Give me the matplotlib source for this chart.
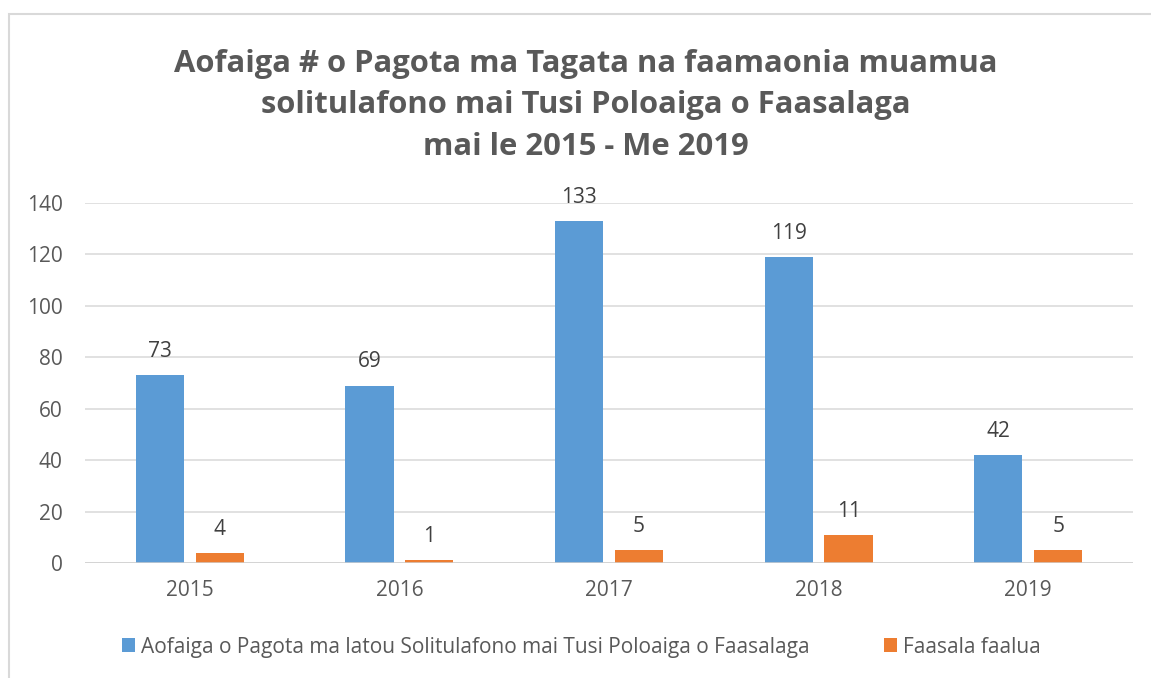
import numpy as np
import matplotlib.pyplot as plt
from matplotlib.patches import Rectangle

years = ['2015', '2016', '2017', '2018', '2019']
pagota = [73, 69, 133, 119, 42]
faasala = [4, 1, 5, 11, 5]

title = ('Aofaiga # o Pagota ma Tagata na faamaonia muamua\n'
         'solitulafono mai Tusi Poloaiga o Faasalaga\n'
         'mai le 2015 - Me 2019')
label_pagota = 'Aofaiga o Pagota ma latou Solitulafono mai Tusi Poloaiga o Faasalaga'
label_faasala = 'Faasala faalua'

blue = '#5B9BD5'
orange = '#ED7D31'
grey = '#595959'

plt.rcParams['font.family'] = ['Open Sans', 'DejaVu Sans']

fig = plt.figure(figsize=(11.51, 6.78), dpi=100)
ax = fig.add_axes([0.0738, 0.1696, 0.9106, 0.531])

x = np.arange(len(years))
w = 0.23
b1 = ax.bar(x - 0.143, pagota, w, color=blue, label=label_pagota, zorder=3)
b2 = ax.bar(x + 0.143, faasala, w, color=orange, label=label_faasala, zorder=3)

# value labels above each bar
for bars, vals in ((b1, pagota), (b2, faasala)):
    for r, v in zip(bars, vals):
        ax.annotate(str(v), (r.get_x() + r.get_width() / 2, v), xytext=(0, 17),
                    textcoords='offset points', ha='center', va='center',
                    fontsize=15, color='#404040')

ax.set_xlim(-0.5, 4.5)
ax.set_ylim(0, 140)
ax.set_yticks(range(0, 141, 20))
ax.set_xticks(x)
ax.set_xticklabels(years)
ax.grid(axis='y', color='#D9D9D9', linewidth=1.1, zorder=0)
ax.axhline(0, color='#D0D0D0', linewidth=1.8, zorder=4)
for s in ax.spines.values():
    s.set_visible(False)
ax.tick_params(length=0, labelsize=15, labelcolor=grey)
ax.tick_params(axis='x', pad=12)
ax.tick_params(axis='y', pad=16)

fig.text(0.509, 0.845, title, ha='center', va='center', fontsize=22.3,
         fontweight='bold', color=grey, linespacing=1.5)

fig.legend(loc='center', bbox_to_anchor=(0.505, 0.0457), ncol=2, frameon=False,
           fontsize=15, labelcolor=grey, handlelength=0.63, handleheight=0.63,
           handletextpad=0.25, columnspacing=3.6)

# chart border (top and left only visible)
fig.patches.append(Rectangle((9 / 1151, -0.1), 1.2, 1 - 14 / 678 + 0.1,
                             transform=fig.transFigure, fill=False,
                             edgecolor='#D9D9D9', linewidth=1.5))

fig.savefig('out.png', dpi=100)
